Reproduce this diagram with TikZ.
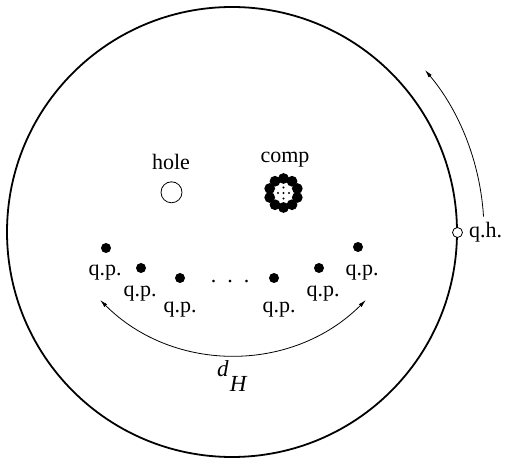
\documentclass[tikz,border=0pt]{standalone}
\usepackage{fontspec}
\setmainfont{Liberation Serif}
\usetikzlibrary{arrows.meta}
\tikzset{
  lbl/.style={inner sep=0pt, font=\fontsize{22}{26}\selectfont},
  qpdot/.style={circle, fill=black, inner sep=0pt, minimum size=10pt},
  thinarrow/.style={line width=0.8pt, -{Latex[length=8pt,width=4pt]}},
  bothArrow/.style={line width=0.8pt, {Latex[length=8pt,width=4pt]}-{Latex[length=8pt,width=4pt]}},
}
\begin{document}
\begin{tikzpicture}[x=1pt,y=1pt]
\useasboundingbox (0,0) rectangle (506,460);
% big circle
\coordinate (C) at (232,228);
\draw[line width=1.8pt] (C) circle[radius=225];
% right arrow (q.h. motion)
\draw[thinarrow] (C) ++(3.5:252) coordinate (rs) arc[start angle=3.5, end angle=40, radius=252] coordinate (re);
% q.h.
\node[circle, draw, fill=white, line width=0.8pt, inner sep=0pt, minimum size=10pt] (qh) at (457.5,227.5) {};
\node[lbl, anchor=west] (qhl) at (469,228) {q.h.};
% hole
\node[lbl] (holel) at (171,298.5) {hole};
\node[circle, draw, line width=0.8pt, inner sep=0pt, minimum size=21pt] (hole) at (171.5,267.7) {};
% comp
\node[lbl] (compl) at (285,300) {comp};
\coordinate (cc) at (283.5,267);
\foreach \a in {0,36,...,324}{
  \fill (cc) ++(\a+90:14.5) circle[radius=5.4];
}
\foreach \a in {0,90,180,270}{
  \fill (cc) ++(\a+90:5.5) circle[radius=1.2];
}
\fill (cc) circle[radius=1.2];
% quasi-particles
\node[qpdot] (p1) at (106,212) {};
\node[qpdot] (p2) at (141,192) {};
\node[qpdot] (p3) at (180,182) {};
\node[qpdot] (p4) at (274,182) {};
\node[qpdot] (p5) at (319,192) {};
\node[qpdot] (p6) at (358,213) {};
\node[lbl] (l1) at (105,187) {q.p.};
\node[lbl] (l2) at (140,166) {q.p.};
\node[lbl] (l3) at (180,150) {q.p.};
\node[lbl] (l4) at (279,150) {q.p.};
\node[lbl] (l5) at (323,166) {q.p.};
\node[lbl] (l6) at (362,187) {q.p.};
\node[lbl] (dots) at (230,178) {.\hspace{11pt}.\hspace{11pt}.};
% bottom arc
\coordinate (B) at (233,293);
\draw[bothArrow] (B) ++(225:188) coordinate (bs) arc[start angle=225, end angle=315, radius=188] coordinate (be);
\node[lbl, anchor=base west, font=\fontsize{23}{27}\selectfont] (dH) at (217,83) {\textit{d}\kern1pt\raisebox{-15pt}{\textit{H}}};
\end{tikzpicture}
\end{document}
